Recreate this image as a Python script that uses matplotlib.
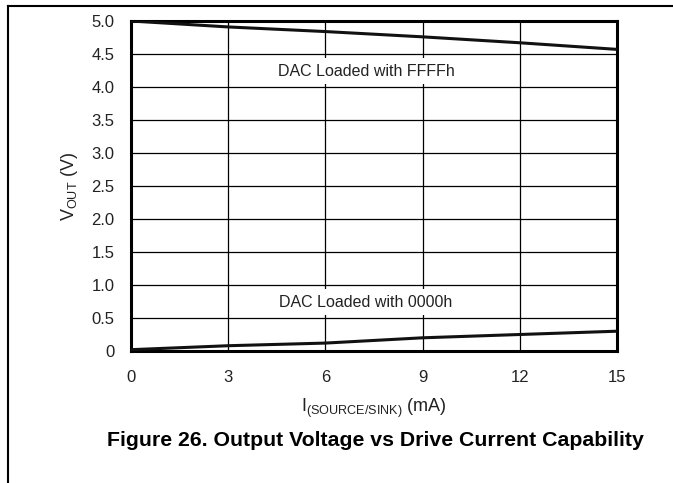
import matplotlib.pyplot as plt
from matplotlib.lines import Line2D

plt.rcParams['font.family'] = ['Liberation Sans', 'DejaVu Sans']
plt.rcParams['mathtext.fontset'] = 'custom'
plt.rcParams['mathtext.rm'] = 'Liberation Sans'

# current (mA) and output voltage (V)
current = [0, 3, 6, 9, 12, 15]
vout_ffff = [5.0, 4.91, 4.84, 4.76, 4.67, 4.57]
vout_0000 = [0.02, 0.08, 0.12, 0.20, 0.25, 0.30]

x_ticks = [0, 3, 6, 9, 12, 15]
y_ticks = [0, 0.5, 1.0, 1.5, 2.0, 2.5, 3.0, 3.5, 4.0, 4.5, 5.0]
y_ticklabels = ['0', '0.5', '1.0', '1.5', '2.0', '2.5', '3.0', '3.5', '4.0', '4.5', '5.0']

fig = plt.figure(figsize=(6.73, 4.83), dpi=100)
ax = fig.add_axes([131 / 673, 1 - 351 / 483, 486 / 673, 330 / 483])

ax.plot(current, vout_ffff, color='#111111', lw=2.2, zorder=3)
ax.plot(current, vout_0000, color='#111111', lw=2.2, zorder=3)

ax.set_xlim(0, 15)
ax.set_ylim(0, 5)
ax.set_xticks(x_ticks)
ax.set_yticks(y_ticks)
ax.set_yticklabels(y_ticklabels)
ax.tick_params(length=0, labelsize=12, labelcolor='#222222', pad=12)
ax.tick_params(axis='x', pad=14)
ax.grid(True, color='black', lw=0.9)
for s in ax.spines.values():
    s.set_linewidth(2.2)

box = dict(facecolor='white', edgecolor='none', pad=4)
ax.text(7.25, 4.24, 'DAC Loaded with FFFFh', ha='center', va='center',
        fontsize=11.5, color='#222222', bbox=box, zorder=2)
ax.text(7.25, 0.74, 'DAC Loaded with 0000h', ha='center', va='center',
        fontsize=11.5, color='#222222', bbox=box, zorder=2)

ax.set_xlabel(r'I$_{\mathregular{(SOURCE/SINK)}}$ (mA)', fontsize=13, color='#222222', labelpad=8)
ax.set_ylabel(r'V$_{\mathregular{OUT}}$ (V)', fontsize=13, color='#222222', labelpad=8)

fig.text(375 / 673, 1 - 440 / 483, 'Figure 26. Output Voltage vs Drive Current Capability',
         ha='center', va='center', fontsize=15.3, fontweight='bold')

# page frame lines
fig.add_artist(Line2D([8 / 673, 1], [1 - 6 / 483, 1 - 6 / 483], transform=fig.transFigure,
                      color='black', lw=1.5))
fig.add_artist(Line2D([8 / 673, 8 / 673], [1 - 6 / 483, 0], transform=fig.transFigure,
                      color='black', lw=1.5))

fig.savefig('out.png', dpi=100)
